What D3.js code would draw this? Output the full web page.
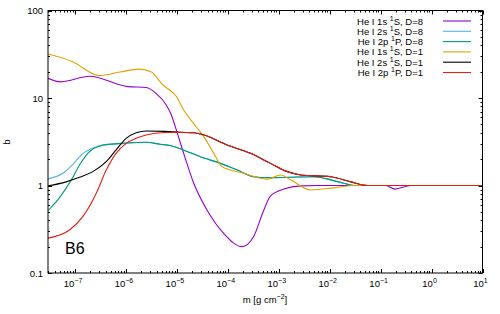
<!DOCTYPE html>
<html>
<head>
<meta charset="utf-8">
<script src="https://cdn.jsdelivr.net/npm/d3@7"></script>
<style>
  body { margin: 0; background: #fff; }
  svg { display: block; font-family: "Liberation Sans", Arial, sans-serif; }
</style>
</head>
<body>
<svg id="chart" width="500" height="314"></svg>
<script>
// series: [m (g cm^-2), b]
const purple1sD8 = [[2.95e-8,16.8],[5.3e-8,15.3],[1.92e-7,17.7],[1.09e-6,13.5],[2.5e-6,13.2],[3.9e-6,11.3],[6.2e-6,8.3],[7.8e-6,6.4],[9.3e-6,4.7],[1.36e-5,2.33],[2.14e-5,1.06],[3.9e-5,0.525],[8.3e-5,0.284],[1.9e-4,0.2],[3.2e-4,0.26],[5.1e-4,0.525],[6.9e-4,0.76],[1.26e-3,0.91],[2.7e-3,0.99],[5.8e-3,1.0],[0.127,1.0],[0.19,0.91],[0.39,1.0],[10,1.0]];
const blue2sD8 = [[2.95e-8,1.19],[5.8e-8,1.38],[9.2e-8,1.76],[1.44e-7,2.33],[2.27e-7,2.68],[3.6e-7,2.91],[6.2e-7,2.97],[2.5e-6,3.12],[4.7e-6,2.96],[7.4e-6,2.87],[1.34e-5,2.55],[2.9e-5,2.13],[7.2e-5,1.79],[1.55e-4,1.5],[3.2e-4,1.26],[6.0e-4,1.23],[4.9e-3,1.26],[1.05e-2,1.16],[1.89e-2,1.06],[3.0e-2,1.0],[10,1.0]];
const teal2pD8 = [[2.95e-8,0.515],[5.1e-8,0.74],[8.7e-8,1.19],[1.26e-7,1.76],[1.98e-7,2.48],[3.1e-7,2.83],[4.9e-7,2.97],[2.5e-6,3.12],[4.7e-6,2.96],[7.4e-6,2.87],[1.34e-5,2.55],[2.9e-5,2.13],[7.2e-5,1.79],[1.55e-4,1.5],[3.2e-4,1.26],[6.0e-4,1.23],[4.9e-3,1.26],[1.05e-2,1.16],[1.89e-2,1.06],[3.0e-2,1.0],[10,1.0]];
const orange1sD1 = [[2.95e-8,31.8],[9.0e-8,26],[3.0e-7,18],[7.7e-7,19.8],[1.85e-6,21.4],[3.1e-6,20],[5.3e-6,14.1],[9.8e-6,10.4],[1.36e-5,7.3],[2.14e-5,5.1],[3.4e-5,3.6],[5.3e-5,2.33],[7.8e-5,1.64],[2.07e-4,1.38],[6.0e-4,1.18],[1.09e-3,1.32],[1.71e-3,1.16],[4.2e-3,0.89],[1.22e-2,0.94],[3.0e-2,1.0],[10,1.0]];
const black2sD1 = [[2.95e-8,0.99],[6.7e-8,1.1],[1.22e-7,1.24],[2.24e-7,1.44],[4.1e-7,1.87],[6.4e-7,2.55],[1.01e-6,3.46],[1.59e-6,4.01],[2.5e-6,4.2],[5.9e-6,4.15],[1.17e-5,4.05],[2.14e-5,4.0],[3.4e-5,3.78],[9.7e-5,2.9],[2.8e-4,2.33],[6.9e-4,1.79],[1.48e-3,1.44],[2.7e-3,1.32],[1.05e-2,1.26],[2.6e-2,1.1],[5.5e-2,1.0],[10,1.0]];
const red2pD1 = [[2.95e-8,0.25],[7.8e-8,0.31],[1.42e-7,0.44],[2.6e-7,0.81],[4.1e-7,1.5],[6.4e-7,2.33],[1.01e-6,3.03],[1.59e-6,3.46],[2.5e-6,3.78],[5.7e-6,4.03],[1.17e-5,4.05],[2.14e-5,4.0],[3.4e-5,3.78],[9.7e-5,2.9],[2.8e-4,2.33],[6.9e-4,1.79],[1.48e-3,1.44],[2.7e-3,1.32],[1.05e-2,1.26],[2.6e-2,1.1],[5.5e-2,1.0],[10,1.0]];

const labels = [["He I 1s ","1","S, D=8"],["He I 2s ","1","S, D=8"],["He I 2p ","1","P, D=8"],
                ["He I 1s ","1","S, D=1"],["He I 2s ","1","S, D=1"],["He I 2p ","1","P, D=1"]];
const colors = ["#9400d3","#56b4e9","#009e73","#e69f00","#000000","#e51e10"];
const series = [purple1sD8, blue2sD8, teal2pD8, orange1sD1, black2sD1, red2pD1];

const xExps = [-7,-6,-5,-4,-3,-2,-1,0,1];
const yTicks = [0.1, 1, 10, 100];

const svg = d3.select("#chart");
const L = 48, R = 482.5, T = 10.5, B = 273;

const x = d3.scaleLog().domain([2.95e-8, 10]).range([L, R]);
const y = d3.scaleLog().domain([0.1, 100]).range([B, T]);

// minor + major ticks, mirrored
const tk = svg.append("g").attr("stroke", "#000").attr("stroke-width", 1);
for (let e = -8; e <= 1; e++) {
  for (let k = 1; k <= 9; k++) {
    const v = k * Math.pow(10, e);
    if (v < 2.95e-8 || v > 10) continue;
    const px = Math.round(x(v)) + 0.5, len = k === 1 ? 4 : 2;
    tk.append("line").attr("x1", px).attr("x2", px).attr("y1", B).attr("y2", B - len);
    tk.append("line").attr("x1", px).attr("x2", px).attr("y1", T).attr("y2", T + len);
  }
}
for (let e = -1; e <= 2; e++) {
  for (let k = 1; k <= 9; k++) {
    const v = k * Math.pow(10, e);
    if (v > 100) continue;
    const py = Math.round(y(v)) + 0.5, len = k === 1 ? 4 : 2;
    tk.append("line").attr("x1", L).attr("x2", L + len).attr("y1", py).attr("y2", py);
    tk.append("line").attr("x1", R).attr("x2", R - len).attr("y1", py).attr("y2", py);
  }
}

// y tick labels
svg.append("g").selectAll("text").data(yTicks).join("text")
  .attr("x", L - 5).attr("y", d => y(d) + 3.5)
  .attr("text-anchor", "end").attr("font-size", 9.5)
  .text(d => d);

// x tick labels 10^e
const xl = svg.append("g").selectAll("text").data(xExps).join("text")
  .attr("x", d => x(Math.pow(10, d)) - 2).attr("y", 287)
  .attr("text-anchor", "middle").attr("font-size", 9.5);
xl.append("tspan").text("10");
xl.append("tspan").attr("dy", -4).attr("font-size", 7).text(d => d < 0 ? "\u2212" + (-d) : d);

// axis titles
svg.append("text").attr("transform", "translate(10,142) rotate(-90)")
  .attr("text-anchor", "middle").attr("font-size", 9.5).text("b");
const xt = svg.append("text").attr("x", 265).attr("y", 303)
  .attr("text-anchor", "middle").attr("font-size", 9.5);
xt.append("tspan").text("m [g cm");
xt.append("tspan").attr("dy", -4).attr("font-size", 7).text("\u22122");
xt.append("tspan").attr("dy", 4).text("]");

// curves
const line = d3.line().x(d => x(d[0])).y(d => y(d[1])).curve(d3.curveMonotoneX);
svg.append("clipPath").attr("id", "clip").append("rect")
  .attr("x", L).attr("y", T).attr("width", R - L).attr("height", B - T);
svg.append("g").attr("clip-path", "url(#clip)")
  .selectAll("path").data(series).join("path")
  .attr("d", line).attr("fill", "none")
  .attr("stroke", (d, i) => colors[i]).attr("stroke-width", 1.1);

// frame
svg.append("rect").attr("x", L).attr("y", T).attr("width", R - L).attr("height", B - T)
  .attr("fill", "none").attr("stroke", "#000").attr("stroke-width", 1);

// panel label
svg.append("text").attr("x", 65).attr("y", 254).attr("font-size", 16).text("B6");

// legend
const lg = svg.append("g");
labels.forEach((lab, i) => {
  const yy = 24.5 + i * 10.3;
  const t = lg.append("text").attr("x", 423).attr("y", yy)
    .attr("text-anchor", "end").attr("font-size", 9.5);
  t.append("tspan").text(lab[0]);
  t.append("tspan").attr("dy", -4).attr("font-size", 7).text(lab[1]);
  t.append("tspan").attr("dy", 4).text(lab[2]);
  lg.append("line").attr("x1", 443).attr("x2", 471).attr("y1", yy - 3.5).attr("y2", yy - 3.5)
    .attr("stroke", colors[i]).attr("stroke-width", 1.1);
});
</script>
</body>
</html>
